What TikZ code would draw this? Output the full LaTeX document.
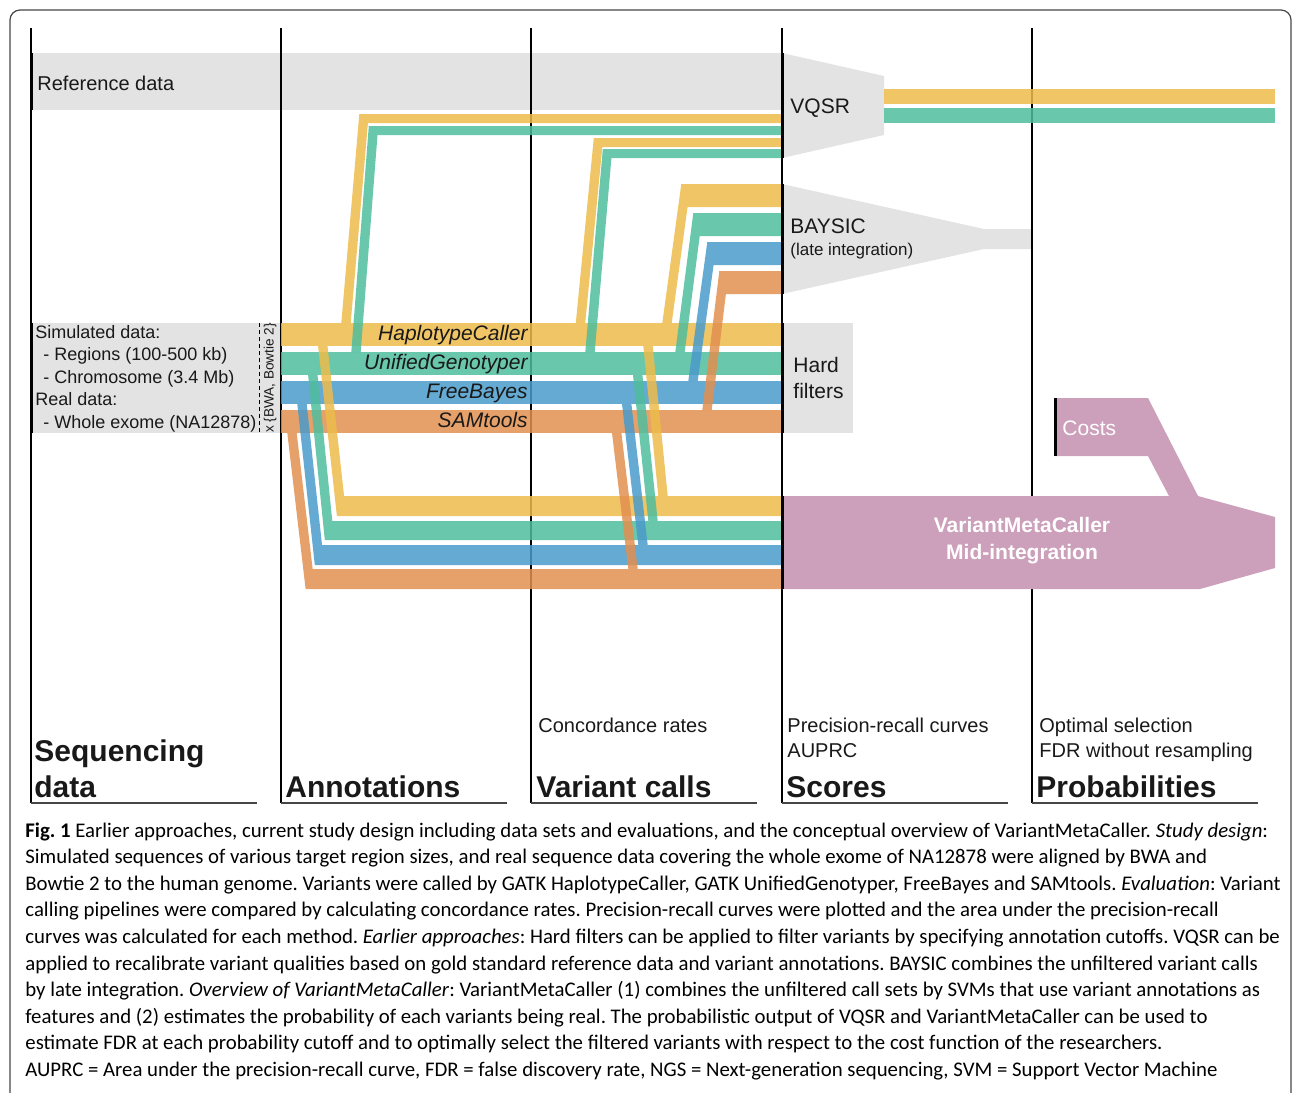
\documentclass[tikz,border=0pt]{standalone}
\usepackage{fontspec}
\setmainfont{Liberation Sans}
\newfontfamily\capfont{Carlito}

\definecolor{yel}{RGB}{237,187,75}
\definecolor{grn}{RGB}{79,189,157}
\definecolor{blu}{RGB}{74,155,202}
\definecolor{org}{RGB}{226,143,80}
\definecolor{boxgrey}{RGB}{227,227,227}
\definecolor{vmcpink}{RGB}{204,159,186}
\definecolor{framegrey}{RGB}{70,70,70}
\definecolor{txt}{RGB}{25,25,25}

% band = rectangle, leg = slanted strip (upper end first)
\newcommand{\flowband}[4]{(#1,#2) -- (#3,#2) -- (#3,#4) -- (#1,#4) -- cycle}
\newcommand{\flowleg}[4]{(#1-4.7,#2) -- (#1+4.7,#2) -- (#3+4.7,#4) -- (#3-4.7,#4) -- cycle}

\begin{document}
\begin{tikzpicture}[x=0.5pt, y=-0.5pt]
  \tikzstyle{every node}=[inner sep=0pt, text=txt, anchor=base west]
  \tikzstyle{flow}=[fill opacity=0.85]
  \tikzstyle{edge}=[line width=1.5pt]
  \tikzstyle{label}=[font=\fontsize{10.5}{12}\selectfont]
  \tikzstyle{head}=[font=\bfseries\fontsize{15}{18}\selectfont]
  \tikzstyle{sub}=[font=\fontsize{10}{12}\selectfont]
  \tikzstyle{tool}=[anchor=base east, font=\itshape\fontsize{10.5}{12}\selectfont]
  \tikzstyle{data}=[font=\fontsize{9}{11}\selectfont]
  \useasboundingbox (0,0) rectangle (1293,1092);
  \clip (0,0) rectangle (1293,1092);
  \draw[framegrey, line width=0.6pt, rounded corners=5pt] (10,10) rectangle (1291,1130);
  %
  % grey areas
  \fill[boxgrey] \flowband{31}{53}{782}{110};
  \fill[boxgrey] (782,53) -- (884,76) -- (884,135) -- (782,158) -- cycle;
  \fill[boxgrey] (782,184) -- (984,229) -- (1031,229) -- (1031,249) -- (984,249) -- (782,294) -- cycle;
  \fill[boxgrey] \flowband{31}{323}{281}{433};
  \fill[boxgrey] \flowband{782}{323}{853}{433};
  %
  % columns
  \foreach \cx in {31,281,531,782,1032} {
    \draw[line width=0.7pt] (\cx,28) -- (\cx,803);
    \draw[framegrey, line width=0.7pt] (\cx,803) -- (\cx+226,803);
  }
  %
  % annotation rows
  \fill[flow, fill=yel] \flowband{281}{323}{782}{346};
  \fill[flow, fill=grn] \flowband{281}{352}{782}{375};
  \fill[flow, fill=blu] \flowband{281}{381}{782}{404};
  \fill[flow, fill=org] \flowband{281}{410}{782}{433};
  %
  % into VQSR
  \fill[flow, fill=yel] \flowband{359.3}{114}{782}{123} \flowleg{364}{114}{346}{323};
  \fill[flow, fill=grn] \flowband{368.8}{126}{782}{135} \flowleg{373.5}{126}{356}{352};
  \fill[flow, fill=yel] \flowband{593.8}{138}{782}{147} \flowleg{598.5}{138}{580.5}{323};
  \fill[flow, fill=grn] \flowband{602.8}{149}{782}{158} \flowleg{607.5}{149}{590}{352};
  % out of VQSR
  \fill[flow, fill=yel] \flowband{884}{89}{1275}{104};
  \fill[flow, fill=grn] \flowband{884}{108}{1275}{123};
  %
  % into BAYSIC
  \fill[flow, fill=yel] \flowband{681}{184}{782}{207} \flowleg{686}{184}{667}{323};
  \fill[flow, fill=grn] \flowband{693}{213}{782}{236} \flowleg{698}{213}{680}{352};
  \fill[flow, fill=blu] \flowband{707}{242}{782}{265} \flowleg{712}{242}{693}{381};
  \fill[flow, fill=org] \flowband{719}{271}{782}{294} \flowleg{724}{271}{707}{410};
  %
  % into VariantMetaCaller
  \fill[flow, fill=yel] \flowband{341.6}{496}{782}{516} \flowleg{322.8}{346}{341.6}{516} \flowleg{648}{346}{663}{496};
  \fill[flow, fill=grn] \flowband{329.5}{521}{782}{540} \flowleg{312.8}{375}{329.5}{540} \flowleg{637.7}{375}{653}{521};
  \fill[flow, fill=blu] \flowband{319.5}{545}{782}{565} \flowleg{302}{404}{319.5}{565} \flowleg{626.7}{404}{643}{545};
  \fill[flow, fill=org] \flowband{310.3}{569}{782}{589} \flowleg{292}{433}{310.3}{589} \flowleg{616.7}{433}{633}{569};
  %
  % VariantMetaCaller and costs
  \fill[vmcpink] (782,496) -- (1198,496) -- (1275,517) -- (1275,568) -- (1200,589) -- (782,589) -- cycle;
  \fill[vmcpink] (1055,398) -- (1148,398) -- (1198,496) -- (1169,496) -- (1148,456) -- (1055,456) -- cycle;
  %
  % black edges
  \draw[edge] (31,53) -- (31,110);
  \draw[edge] (31,323) -- (31,433);
  \draw[edge] (782,53) -- (782,158);
  \draw[edge] (782,184) -- (782,294);
  \draw[edge] (782,323) -- (782,433);
  \draw[edge] (782,496) -- (782,589);
  \draw[edge] (1055,398) -- (1055,456);
  \draw[line width=0.5pt, dash pattern=on 2pt off 1.5pt] (259,323) -- (259,433);
  %
  % labels
  \node[sub] (refdata) at (37,90) {Reference data};
  \node[label] (vqsr) at (790,113) {VQSR};
  \node[label] (baysic) at (790,233) {BAYSIC};
  \node[font=\fontsize{8.5}{10}\selectfont] (late) at (790,255) {(late integration)};
  \node[label] (hard) at (793,372) {Hard};
  \node[label] (filters) at (793,398) {filters};
  \node[label, text=white] (costs) at (1062,435) {Costs};
  \node[anchor=center, align=center, text=white, font=\bfseries\fontsize{10.5}{13.5}\selectfont] (vmc) at (1022,541) {VariantMetaCaller\\Mid-integration};
  %
  \node[tool] (hc) at (528,340) {HaplotypeCaller};
  \node[tool] (ug) at (528,369) {UnifiedGenotyper};
  \node[tool] (fb) at (528,398) {FreeBayes};
  \node[tool] (st) at (528,427) {SAMtools};
  %
  \node[data] (sim) at (35,338) {Simulated data:};
  \node[data] (regions) at (43,360) {- Regions (100-500 kb)};
  \node[data] (chrom) at (43,383) {- Chromosome (3.4 Mb)};
  \node[data] (real) at (35,405) {Real data:};
  \node[data] (exome) at (43,428) {- Whole exome (NA12878)};
  \node[anchor=center, rotate=90, font=\fontsize{6.8}{8}\selectfont] (aligners) at (270,378) {x \{BWA, Bowtie 2\}};
  %
  \node[head] (seqa) at (34,761) {Sequencing};
  \node[head] (seqb) at (34,797) {data};
  \node[head] (annot) at (285,797) {Annotations};
  \node[head] (vcalls) at (536,797) {Variant calls};
  \node[head] (scores) at (786,797) {Scores};
  \node[head] (probs) at (1036,797) {Probabilities};
  \node[sub] (conc) at (538,732) {Concordance rates};
  \node[sub] (prc) at (787,732) {Precision-recall curves};
  \node[sub] (auprc) at (787,757) {AUPRC};
  \node[sub] (optsel) at (1039,732) {Optimal selection};
  \node[sub] (fdr) at (1039,757) {FDR without resampling};
  %
  % caption
  \node[anchor=north west, align=left, text=black, font=\capfont\frenchspacing\fontsize{10.4}{13.3}\selectfont] (caption) at (25,822) {%
    \textbf{Fig. 1} Earlier approaches, current study design including data sets and evaluations, and the conceptual overview of VariantMetaCaller. \textit{Study design}:\\
    Simulated sequences of various target region sizes, and real sequence data covering the whole exome of NA12878 were aligned by BWA and\\
    Bowtie 2 to the human genome. Variants were called by GATK HaplotypeCaller, GATK UnifiedGenotyper, FreeBayes and SAMtools. \textit{Evaluation}: Variant\\
    calling pipelines were compared by calculating concordance rates. Precision-recall curves were plotted and the area under the precision-recall\\
    curves was calculated for each method. \textit{Earlier approaches}: Hard filters can be applied to filter variants by specifying annotation cutoffs. VQSR can be\\
    applied to recalibrate variant qualities based on gold standard reference data and variant annotations. BAYSIC combines the unfiltered variant calls\\
    by late integration. \textit{Overview of VariantMetaCaller}: VariantMetaCaller (1) combines the unfiltered call sets by SVMs that use variant annotations as\\
    features and (2) estimates the probability of each variants being real. The probabilistic output of VQSR and VariantMetaCaller can be used to\\
    estimate FDR at each probability cutoff and to optimally select the filtered variants with respect to the cost function of the researchers.\\
    AUPRC = Area under the precision-recall curve, FDR = false discovery rate, NGS = Next-generation sequencing, SVM = Support Vector Machine};
\end{tikzpicture}
\end{document}
